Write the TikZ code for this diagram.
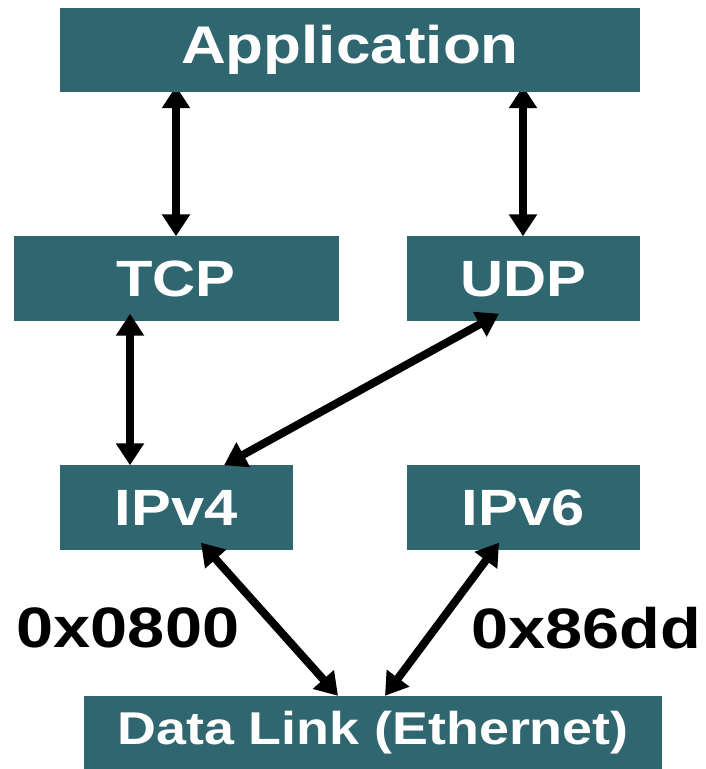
\documentclass[tikz,border=0pt]{standalone}
\usepackage{fontspec}
\setmainfont[FakeStretch=1.17]{Liberation Sans}
\usepackage{tikz}
\usetikzlibrary{arrows.meta,positioning,backgrounds,calc}
\definecolor{layerteal}{RGB}{48,102,112}
\tikzstyle{layer} = [rectangle, minimum width=233pt, minimum height=85pt, inner sep=0pt, text centered, fill=layerteal, text=white, font=\fontsize{51}{55}\selectfont\bfseries]
\tikzstyle{ethertype} = [font=\fontsize{57}{60}\selectfont\bfseries, inner sep=0pt]
\tikzstyle{arrow} = [line width=8pt, {Triangle[width=27pt,length=22pt]}-{Triangle[width=27pt,length=22pt]}]

\begin{document}
\begin{tikzpicture}[node distance=229pt]
\useasboundingbox (0,0) rectangle (705pt,769pt);
\node (app) [layer, minimum width=580pt, minimum height=84pt, font=\fontsize{53}{56}\selectfont\bfseries] at (350pt,719pt) {Application};
\node (tcp) [layer, minimum width=325pt, below of=app, xshift=-174pt] {TCP};
\node (udp) [layer, right of=tcp, xshift=118pt] {UDP};
\node (ip4) [layer, below of=tcp] {IPv4};
\node (ip6) [layer, below of=udp] {IPv6};
\node (dl) [layer, minimum width=578pt, minimum height=74pt, below of=ip4, xshift=197pt, yshift=4pt, font=\fontsize{46}{50}\selectfont\bfseries] {Data Link (Ethernet)};
\node (v4type) [ethertype] at (128pt,141pt) {0x0800};
\node (v6type) [ethertype] at (586pt,141pt) {0x86dd};
\begin{scope}[on background layer]
\draw [arrow] ([yshift=6pt]app.south -| tcp.north) -- (tcp.north);
\draw [arrow] ([yshift=6pt]app.south -| udp.north) -- (udp.north);
\end{scope}
\draw [arrow] ([xshift=-46pt,yshift=8pt]tcp.south) -- ([xshift=-46pt]ip4.north);
\draw [arrow] ([xshift=-24pt,yshift=8pt]udp.south) -- ([xshift=48pt]ip4.north);
\draw [arrow] ([xshift=25pt,yshift=8pt]ip4.south) -- ([xshift=-35pt]dl.north);
\draw [arrow] ([xshift=-24pt,yshift=8pt]ip6.south) -- ([xshift=12pt]dl.north);
\end{tikzpicture}
\end{document}
